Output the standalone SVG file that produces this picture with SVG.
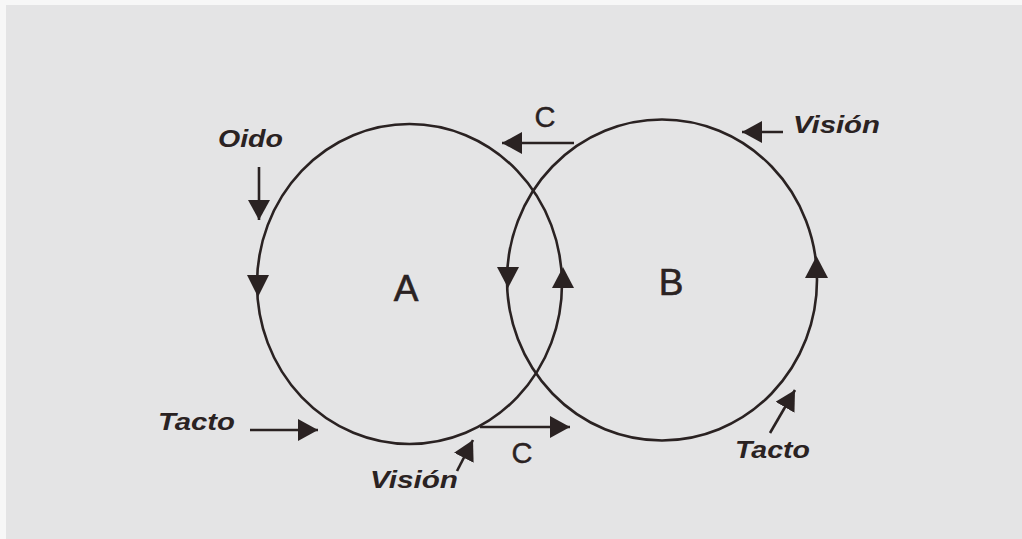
<svg xmlns="http://www.w3.org/2000/svg" width="1022" height="539" viewBox="0 0 1022 539">
<style>
.ring{fill:none;stroke:#2a2222;stroke-width:2.6}
.ln{fill:none;stroke:#2a2222;stroke-width:2.6}
.head{fill:#2a2222}
.lbl{font-family:"Liberation Sans",Arial,sans-serif;font-style:italic;font-weight:bold;font-size:23px;fill:#2a2222}
.big{font-family:"Liberation Sans",Arial,sans-serif;font-size:37px;fill:#2a2222;text-anchor:middle;stroke:#2a2222;stroke-width:0.6}
.c{font-family:"Liberation Sans",Arial,sans-serif;font-size:29px;fill:#2a2222;text-anchor:middle;stroke:#2a2222;stroke-width:0.4}
</style>
<defs>
<marker id="ah" viewBox="0 0 20 22" markerWidth="20" markerHeight="22" refX="20" refY="11" orient="auto" markerUnits="userSpaceOnUse">
<path d="M0,0 L20,11 L0,22 z" fill="#2a2222"/>
</marker>
</defs>
<rect width="1022" height="539" fill="#f7f7f7"/>
<rect x="6" y="5" width="1016" height="534" fill="#e4e4e5"/>
<g id="nodeA">
<ellipse class="ring" cx="409.5" cy="284" rx="152.5" ry="160"/>
<polygon class="head" points="247,275 269,275 258,297"/>
<polygon class="head" points="552,288 574,288 563,267"/>
<text class="big" x="406" y="301">A</text>
</g>
<g id="nodeB">
<ellipse class="ring" cx="662" cy="280" rx="155" ry="160.5"/>
<polygon class="head" points="497,267 519,267 508,288"/>
<polygon class="head" points="805,278 828,278 816.5,256"/>
<text class="big" x="671" y="295">B</text>
</g>
<g id="connectors">
<line class="ln" x1="259" y1="167" x2="259" y2="220" marker-end="url(#ah)"/>
<line class="ln" x1="574" y1="143" x2="502" y2="143" marker-end="url(#ah)"/>
<line class="ln" x1="783" y1="132" x2="742" y2="132" marker-end="url(#ah)"/>
<line class="ln" x1="250" y1="430" x2="318" y2="430" marker-end="url(#ah)"/>
<line class="ln" x1="480" y1="427" x2="570" y2="427" marker-end="url(#ah)"/>
<line class="ln" x1="457" y1="471" x2="473" y2="440" marker-end="url(#ah)"/>
<line class="ln" x1="770" y1="433" x2="795" y2="390" marker-end="url(#ah)"/>
</g>
<g id="labels">
<text class="lbl" x="218" y="147" textLength="65" lengthAdjust="spacingAndGlyphs">Oido</text>
<text class="lbl" x="793" y="133" textLength="87" lengthAdjust="spacingAndGlyphs">Visión</text>
<text class="lbl" x="158" y="430" textLength="77" lengthAdjust="spacingAndGlyphs">Tacto</text>
<text class="lbl" x="370" y="488" textLength="88" lengthAdjust="spacingAndGlyphs">Visión</text>
<text class="lbl" x="735" y="458" textLength="75" lengthAdjust="spacingAndGlyphs">Tacto</text>
<text class="c" x="545" y="127">C</text>
<text class="c" x="522" y="463">C</text>
</g>
</svg>
